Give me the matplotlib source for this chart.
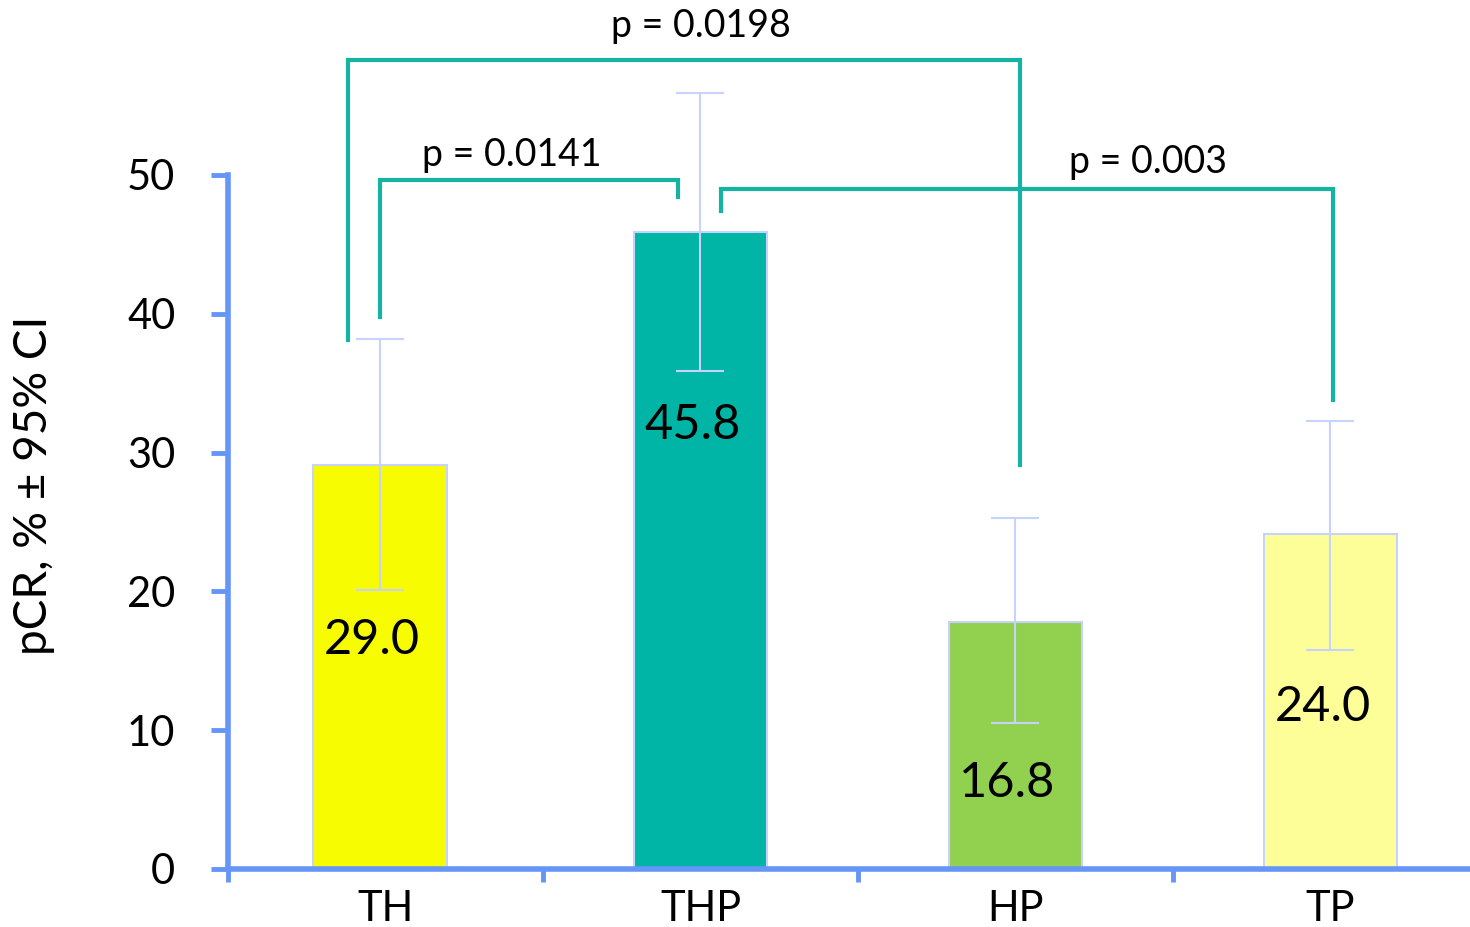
import numpy as np
import matplotlib
matplotlib.use("Agg")
import matplotlib.pyplot as plt

# data
groups = ["TH", "THP", "HP", "TP"]
pcr = [29.1, 45.9, 17.8, 24.1]
labels = ["29.0", "45.8", "16.8", "24.0"]
label_y = [16.5, 32.0, 6.2, 11.7]
ci_low = [20.1, 35.9, 10.5, 15.8]
ci_high = [38.2, 55.9, 25.3, 32.3]
colors = ["#F8FC00", "#00B5A6", "#92D050", "#FEFE99"]

# comparison brackets: (x left, y left end, y top, x right, y right end, text, text x, text y)
brackets = [
    (-0.017, 39.8, 49.6, 0.93, 48.4, "p = 0.0141", 0.40, 51.4),
    (-0.119, 38.1, 58.3, 2.015, 29.1, "p = 0.0198", 1.0, 60.7),
    (1.065, 47.4, 49.0, 3.008, 33.8, "p = 0.003", 2.42, 50.9),
]

plt.rcParams["font.family"] = ["Lato", "DejaVu Sans"]

spine_c = "#6495F7"
teal = "#14B3A2"
err_c = "#C8D2FF"

fig = plt.figure(figsize=(14.7, 9.27), dpi=100)
ax = fig.add_axes([0.1551, 0.0626, 0.8449, 0.9284])

x = np.arange(len(groups))
xb = x - np.array([0.017, 0, 0, 0])
ax.bar(xb, pcr, width=0.425, color=colors, edgecolor=err_c, linewidth=1.5, zorder=2)
yerr = [np.array(pcr) - np.array(ci_low), np.array(ci_high) - np.array(pcr)]
ax.errorbar(xb, pcr, yerr=yerr, fmt="none", ecolor=err_c, elinewidth=1.5,
            capsize=17, capthick=1.5, zorder=3)

for i, lab in enumerate(labels):
    ax.text(xb[i] - 0.025, label_y[i], lab, ha="center", va="center",
            fontsize=35, zorder=4)

for x0, y0, ytop, x1, y1, txt, tx, ty in brackets:
    ax.plot([x0, x0, x1, x1], [y0, ytop, ytop, y1], color=teal, lw=3,
            solid_joinstyle="miter", clip_on=False, zorder=5)
    ax.text(tx, ty, txt, ha="center", va="center", fontsize=27)

ax.set_xlim(-0.5, 3.443)
ax.set_ylim(0, 62)

for s in ["top", "right"]:
    ax.spines[s].set_visible(False)
for s in ["left", "bottom"]:
    ax.spines[s].set_color(spine_c)
    ax.spines[s].set_linewidth(4)
ax.spines["left"].set_bounds(0, 50)

ax.set_yticks(np.arange(0, 51, 10))
ax.tick_params(axis="y", direction="out", length=12, width=3.5, color=spine_c,
               labelsize=30, pad=26)
ax.set_xticks(x)
ax.set_xticklabels(groups)
ax.set_xticks([-0.5, 0.5, 1.5, 2.5], minor=True)
ax.tick_params(axis="x", which="major", length=0, labelsize=30, pad=15)
ax.tick_params(axis="x", which="minor", direction="out", length=9, width=3.5,
               color=spine_c)

ax.set_ylabel("pCR, % ± 95% CI", fontsize=33)
ax.yaxis.set_label_coords(-0.139, 0.446)

fig.savefig("out.png", dpi=100)
